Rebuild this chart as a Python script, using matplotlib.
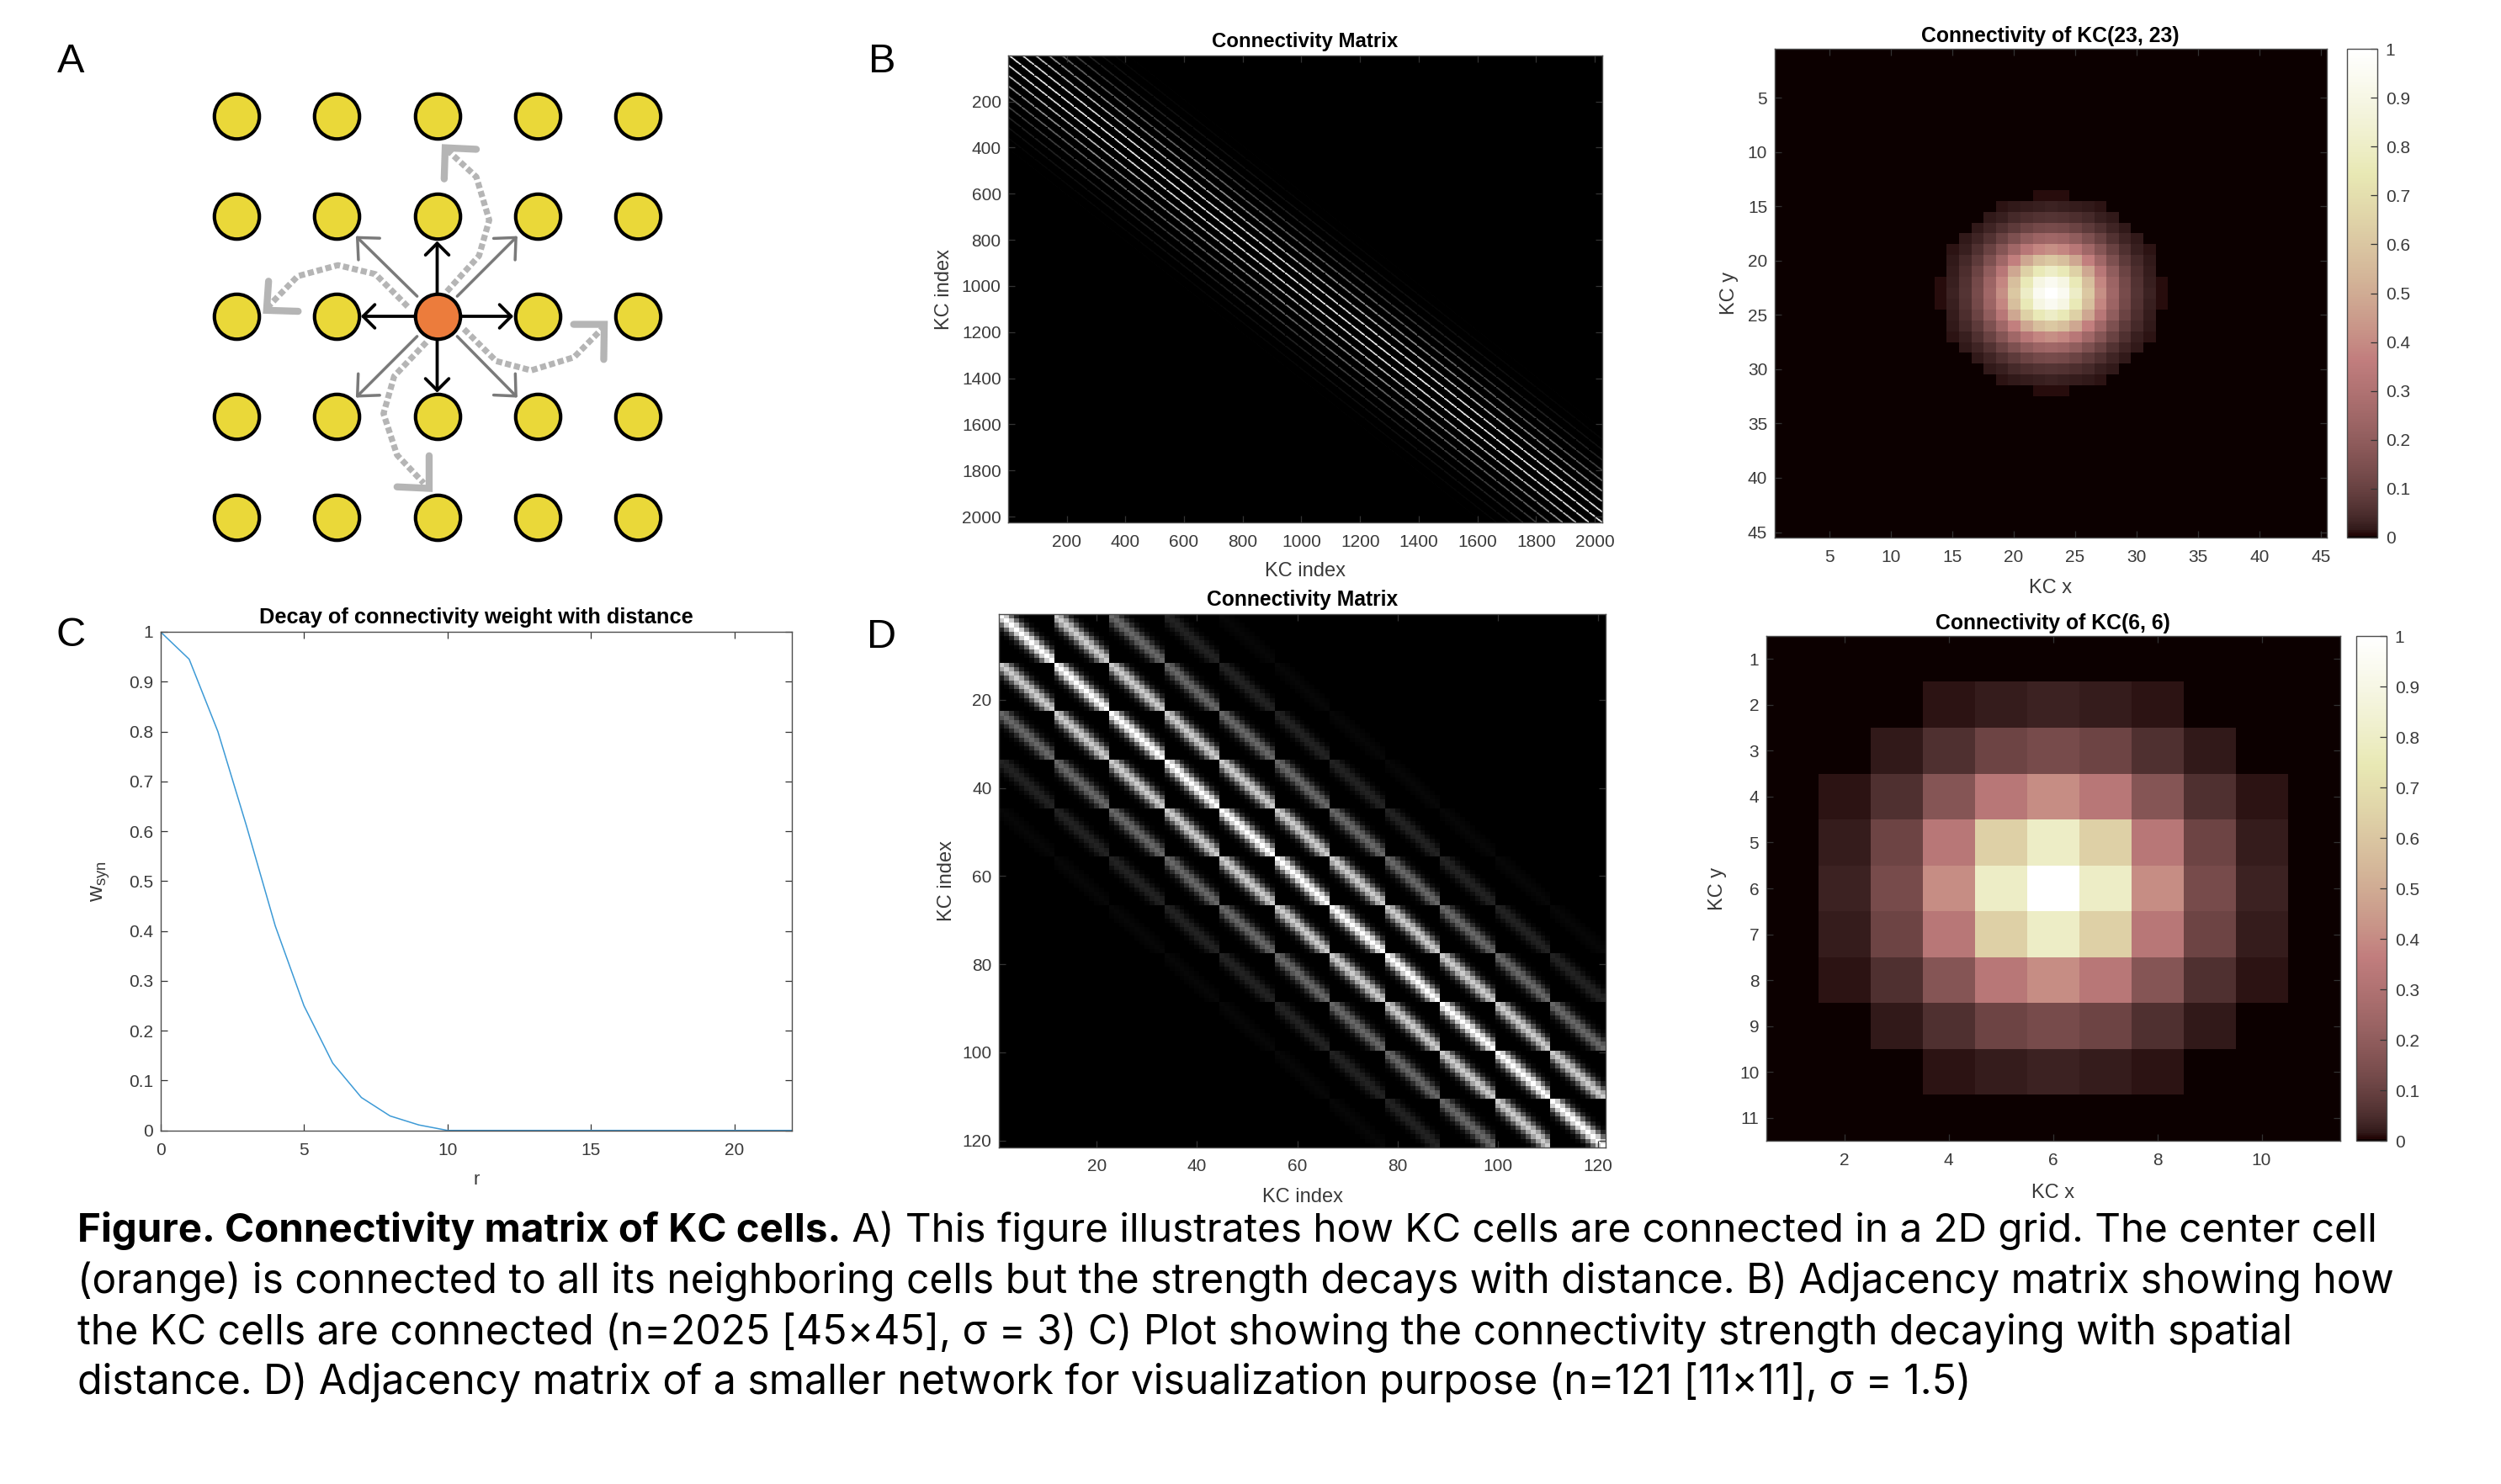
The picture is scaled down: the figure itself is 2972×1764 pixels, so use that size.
import numpy as np
import matplotlib
matplotlib.use("Agg")
import matplotlib.pyplot as plt
from matplotlib.colors import ListedColormap

W, H = 2972, 1764
DPI = 100
plt.rcParams['font.family'] = ['Liberation Sans', 'DejaVu Sans']
plt.rcParams['mathtext.fontset'] = 'custom'
plt.rcParams['mathtext.rm'] = 'Liberation Sans'

# ---- data ----
decay_r = list(range(0, 23))
decay_w = [1, .945, .80, .61, .41, .25, .135, .066, .029, .011, 0,
           0, 0, 0, 0, 0, 0, 0, 0, 0, 0, 0, 0]

# weights by |dy| (rows) and |dx| (columns) from the centre cell
spread_45 = [
    [1, .946, .801, .607, .411, .249, .135, .066, .029, .011],
    [.946, .895, .757, .574, .389, .236, .128, .062, .027, .0105],
    [.801, .757, .641, .486, .329, .200, .108, .053, .023, 0],
    [.607, .574, .486, .368, .249, .151, .082, .040, .017, 0],
    [.411, .389, .329, .249, .169, .102, .056, .027, .012, 0],
    [.249, .236, .200, .151, .102, .062, .034, .016, 0, 0],
    [.135, .128, .108, .082, .056, .034, .018, 0, 0, 0],
    [.066, .062, .053, .040, .027, .016, 0, 0, 0, 0],
    [.029, .027, .023, .017, .012, 0, 0, 0, 0, 0],
    [.011, .0105, 0, 0, 0, 0, 0, 0, 0, 0],
]
spread_11 = [
    [1, .80, .41, .135, .030, 0],
    [.80, .64, .33, .110, .023, 0],
    [.41, .33, .17, .056, .012, 0],
    [.135, .110, .056, .018, 0, 0],
    [.030, .023, .012, 0, 0, 0],
    [0, 0, 0, 0, 0, 0],
]

grid_cols = [0, 1, 2, 3, 4]
grid_rows = [0, 1, 2, 3, 4]
centre = (2, 2)

black_tips = [(2, 1.25), (1.24, 2), (2.76, 2), (2, 2.76)]
gray_starts = [(1.80, 1.80), (2.20, 1.80), (1.80, 2.20), (2.20, 2.20)]
gray_tips = [(1.19, 1.20), (2.80, 1.20), (1.19, 2.81), (2.80, 2.81)]

flow_up = [(2.096, 1.753), (2.417, 1.397), (2.519, 1.041), (2.39, 0.61), (2.107, 0.348)]
flow_left = [(1.706, 1.903), (1.385, 1.58), (1.011, 1.49), (0.61, 1.6), (0.316, 1.903)]
flow_right = [(2.267, 2.127), (2.588, 2.446), (2.936, 2.539), (3.364, 2.408), (3.658, 2.109)]
flow_down = [(1.893, 2.258), (1.572, 2.596), (1.465, 2.97), (1.6, 3.382), (1.866, 3.663)]
chev_up = [(2.39, 0.335), (2.08, 0.32), (2.07, 0.63)]
chev_left = [(0.32, 1.65), (0.30, 1.94), (0.615, 1.95)]
chev_right = [(3.36, 2.08), (3.665, 2.08), (3.66, 2.43)]
chev_down = [(1.60, 3.70), (1.92, 3.715), (1.92, 3.39)]

ticks_2000 = [200, 400, 600, 800, 1000, 1200, 1400, 1600, 1800, 2000]
ticks_120 = [20, 40, 60, 80, 100, 120]
ticks_45 = [5, 10, 15, 20, 25, 30, 35, 40, 45]
ticks_c_x = [0, 5, 10, 15, 20]
ticks_unit = [0, .1, .2, .3, .4, .5, .6, .7, .8, .9, 1]
unit_labels = ['0', '0.1', '0.2', '0.3', '0.4', '0.5', '0.6', '0.7', '0.8', '0.9', '1']

caption_bold = "Figure. Connectivity matrix of KC cells."
caption_lines = [
    " A) This figure illustrates how KC cells are connected in a 2D grid. The center cell",
    "(orange) is connected to all its neighboring cells but the strength decays with distance. B) Adjacency matrix showing how",
    "the KC cells are connected (n=2025 [45×45], σ = 3) C) Plot showing the connectivity strength decaying with spatial",
    "distance. D) Adjacency matrix of a smaller network for visualization purpose (n=121 [11×11], σ = 1.5)",
]

pink_rgba = plt.get_cmap('pink')(np.linspace(0, 1, 256))
pink_rgba[0, :3] = (0x0c / 255, 0, 0)
PINK = ListedColormap(pink_rgba)


# ---- helpers ----
def tile(table, n):
    t = np.zeros((n, n), dtype=np.float32)
    a = np.asarray(table, dtype=np.float32)
    t[:a.shape[0], :a.shape[1]] = a
    return t


def expand_cell(table, n, c):
    t = tile(table, n)
    idx = np.abs(np.arange(n) - c)
    return t[np.ix_(idx, idx)]


def adjacency(table, n):
    t = tile(table, n)
    idx = np.arange(n * n)
    xs, ys = idx % n, idx // n
    dx = np.abs(xs[:, None] - xs[None, :]).astype(np.int16)
    dy = np.abs(ys[:, None] - ys[None, :]).astype(np.int16)
    return t[dy, dx]


fig = plt.figure(figsize=(W / DPI, H / DPI), dpi=DPI, facecolor='white')


def axpx(l, t, r, b):
    return fig.add_axes([l / W, 1 - b / H, (r - l) / W, (b - t) / H])


INK = '#3a3a3a'
EDGE = '#4d4d4d'
TICK_FS = 15
LAB_FS = 17


def style(ax, xpad=10, ypad=6):
    ax.tick_params(axis='both', which='major', direction='in', length=6, width=0.9,
                   color='#333333', labelcolor=INK, labelsize=TICK_FS,
                   top=True, right=True)
    ax.tick_params(axis='x', pad=xpad)
    ax.tick_params(axis='y', pad=ypad)
    for s in ax.spines.values():
        s.set_color(EDGE)
        s.set_linewidth(1.0)


def labels(ax, xl, yl, title, title_fs, xlab_y, ylab_x, l, t, r, b, title_pad=7):
    ax.set_xlabel(xl, fontsize=LAB_FS, color=INK, va='center')
    ax.set_ylabel(yl, fontsize=LAB_FS, color=INK, va='center')
    ax.xaxis.set_label_coords(0.5, (b - xlab_y) / (b - t))
    ax.yaxis.set_label_coords((ylab_x - l) / (r - l), 0.5)
    ax.set_title(title, fontsize=title_fs, fontweight='bold', color='black', pad=title_pad)


def heat(box, data, cmap, xt, yt, xl, yl, title, title_fs, xlab_y, ylab_x, title_pad=7):
    l, t, r, b = box
    ax = axpx(l, t, r, b)
    n = data.shape[0]
    im = ax.imshow(data, cmap=cmap, vmin=0, vmax=1, aspect='auto',
                   interpolation='nearest', extent=(.5, n + .5, n + .5, .5))
    ax.set_xticks(xt)
    ax.set_yticks(yt)
    style(ax)
    labels(ax, xl, yl, title, title_fs, xlab_y, ylab_x, l, t, r, b, title_pad)
    return ax, im


def cbar(im, box):
    l, t, r, b = box
    cax = axpx(l, t, r, b)
    cb = fig.colorbar(im, cax=cax)
    cb.set_ticks(ticks_unit, labels=unit_labels)
    cb.ax.tick_params(direction='in', length=6, width=0.9, color='#333333',
                      labelcolor=INK, labelsize=TICK_FS, pad=7)
    cb.outline.set_edgecolor(EDGE)
    cb.outline.set_linewidth(1.0)


# ---- panel A ----
UNIT = 119.25
axA = axpx(281 - UNIT, 137.5 - UNIT, 281 + 5 * UNIT, 137.5 + 5 * UNIT)
axA.set_xlim(-1, 5)
axA.set_ylim(5, -1)
axA.axis('off')
axA.patch.set_alpha(0)

for pts in (flow_up, flow_left, flow_right, flow_down):
    xs, ys = zip(*pts)
    axA.plot(xs, ys, color='#b5b5b5', lw=5.2, ls=(0, (1.0, 0.5)), zorder=1)
for pts in (chev_up, chev_left, chev_right, chev_down):
    xs, ys = zip(*pts)
    axA.plot(xs, ys, color='#b5b5b5', lw=6, solid_capstyle='round',
             solid_joinstyle='miter', zorder=1)

for s, e in zip(gray_starts, gray_tips):
    axA.annotate('', xy=e, xytext=s, zorder=2,
                 arrowprops=dict(arrowstyle='->,head_length=14,head_width=13', mutation_scale=1,
                                 color='#7a7a7a', lw=2.5, shrinkA=0, shrinkB=0))
for e in black_tips:
    axA.annotate('', xy=e, xytext=centre, zorder=2,
                 arrowprops=dict(arrowstyle='->,head_length=10,head_width=10', mutation_scale=1,
                                 color='black', lw=2.7, shrinkA=0, shrinkB=0))

gx, gy = np.meshgrid(grid_cols, grid_rows)
is_c = (gx == centre[0]) & (gy == centre[1])
axA.scatter(gx[~is_c], gy[~is_c], s=1480, c='#EAD839', edgecolors='black', linewidths=3.0, zorder=3)
axA.scatter(gx[is_c], gy[is_c], s=1480, c='#EC7C3C', edgecolors='black', linewidths=3.0, zorder=3)

# ---- panel B ----
axB, _ = heat((1198, 66, 1904, 621), adjacency(spread_45, 45), 'gray',
              ticks_2000, ticks_2000, 'KC index', 'KC index', 'Connectivity Matrix', 17.3, 679, 1122)
axB2, imB2 = heat((2108.5, 58, 2765, 639), expand_cell(spread_45, 45, 22), PINK,
                  ticks_45, ticks_45, 'KC x', 'KC y', 'Connectivity of KC(23, 23)', 17.8, 699, 2055,
                  title_pad=6)
cbar(imB2, (2788.6, 58, 2825, 639))

# ---- panel C ----
box = (190.7, 751, 941, 1343.7)
axC = axpx(*box)
axC.plot(decay_r, decay_w, color='#3d9ad6', lw=1.1)
axC.set_xlim(0, 22)
axC.set_ylim(0, 1)
axC.set_xticks(ticks_c_x)
axC.set_yticks(ticks_unit, labels=unit_labels)
style(axC)
labels(axC, 'r', r'w$_{\mathrm{syn}}$', 'Decay of connectivity weight with distance', 18.3,
       1402, 119, *box)
axC.yaxis.get_label().set_fontsize(19)
axC.xaxis.get_label().set_fontsize(16)

# ---- panel D ----
axD, _ = heat((1187, 729.6, 1908, 1363.6), adjacency(spread_11, 11), 'gray',
              ticks_120, ticks_120, 'KC index', 'KC index', 'Connectivity Matrix', 17.7, 1423, 1125)
axD2, imD2 = heat((2098.6, 756, 2780.5, 1356), expand_cell(spread_11, 11, 5), PINK,
                  [2, 4, 6, 8, 10], list(range(1, 12)), 'KC x', 'KC y', 'Connectivity of KC(6, 6)', 17.8,
                  1418, 2041, title_pad=6)
cbar(imD2, (2800, 756, 2836, 1356))

# ---- panel letters ----
for letter, x, y in (('A', 84, 73), ('B', 1048, 73), ('C', 84, 756), ('D', 1048, 757)):
    fig.text(x / W, 1 - y / H, letter, fontsize=35, ha='center', va='center', color='black')

# ---- caption ----
CAP_FONT = ['Inter', 'DejaVu Sans']
CAP_BOLD_FS = 34.2
CAP_FIRST_FS = 34.3
CAP_FS = [34.5, 34.6, 34.65]
baselines = [1476, 1537, 1598, 1657]
X0 = 92
r = fig.canvas.get_renderer()
tb = fig.text(X0 / W, 1 - baselines[0] / H, caption_bold, family=CAP_FONT, fontsize=CAP_BOLD_FS,
              fontweight='bold', color='black', va='baseline')
end = tb.get_window_extent(r).x1
fig.text(end / W, 1 - baselines[0] / H, caption_lines[0], family=CAP_FONT, fontsize=CAP_FIRST_FS,
         color='black', va='baseline')
for line, y, fs in zip(caption_lines[1:], baselines[1:], CAP_FS):
    fig.text(X0 / W, 1 - y / H, line, family=CAP_FONT, fontsize=fs, color='black', va='baseline')

fig.savefig('out.png', dpi=DPI, facecolor='white')
